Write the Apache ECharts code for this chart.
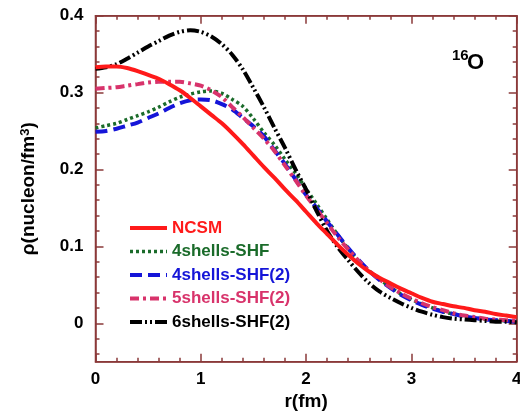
<!DOCTYPE html>
<html>
<head>
<meta charset="utf-8">
<script src="https://cdn.jsdelivr.net/npm/echarts@6/dist/echarts.min.js"></script>
<style>html,body{margin:0;padding:0;background:#fff}#chart{width:520px;height:412px}</style>
</head>
<body>
<div id="chart"></div>
<script>
// r (fm) sample points
const rValues = [0.0,0.1,0.2,0.3,0.4,0.5,0.6,0.7,0.8,0.9,1.0,1.1,1.2,1.3,1.4,1.5,1.6,1.7,1.8,1.9,2.0,2.1,2.2,2.3,2.4,2.5,2.6,2.7,2.8,2.9,3.0,3.1,3.2,3.3,3.4,3.5,3.6,3.7,3.8,3.9,4.0];
const seriesNames = ["NCSM","4shells-SHF","4shells-SHF(2)","5shells-SHF(2)","6shells-SHF(2)"];
const ncsm = [0.333,0.334,0.334,0.332,0.328,0.323,0.318,0.311,0.303,0.293,0.282,0.271,0.260,0.247,0.233,0.218,0.203,0.189,0.174,0.160,0.145,0.130,0.116,0.102,0.089,0.077,0.067,0.059,0.052,0.045,0.039,0.033,0.028,0.025,0.022,0.020,0.017,0.015,0.012,0.010,0.008];
const shf4 = [0.254,0.257,0.260,0.265,0.270,0.275,0.281,0.288,0.294,0.298,0.301,0.302,0.299,0.291,0.282,0.266,0.248,0.232,0.213,0.195,0.175,0.155,0.135,0.115,0.097,0.081,0.068,0.057,0.047,0.038,0.031,0.025,0.020,0.015,0.012,0.009,0.007,0.005,0.004,0.003,0.002];
const shf4b = [0.249,0.250,0.253,0.257,0.261,0.267,0.273,0.280,0.286,0.290,0.291,0.290,0.285,0.278,0.267,0.256,0.243,0.225,0.207,0.187,0.167,0.150,0.132,0.115,0.098,0.082,0.068,0.056,0.046,0.037,0.030,0.024,0.019,0.015,0.012,0.009,0.007,0.005,0.004,0.003,0.002];
const shf5b = [0.305,0.306,0.307,0.309,0.311,0.313,0.314,0.314,0.314,0.312,0.309,0.303,0.294,0.281,0.268,0.254,0.240,0.224,0.205,0.186,0.166,0.148,0.130,0.112,0.096,0.081,0.068,0.057,0.047,0.039,0.032,0.026,0.021,0.017,0.013,0.010,0.008,0.006,0.005,0.004,0.003];
const shf6b = [0.331,0.333,0.337,0.344,0.352,0.360,0.367,0.374,0.379,0.381,0.379,0.373,0.363,0.349,0.330,0.306,0.281,0.254,0.228,0.200,0.174,0.146,0.120,0.099,0.082,0.066,0.052,0.041,0.033,0.026,0.020,0.015,0.011,0.008,0.006,0.005,0.004,0.003,0.002,0.002,0.001];
const yMajor = [0,0.1,0.2,0.3,0.4];
const yMinor = [-0.04,-0.02,0.02,0.04,0.06,0.08,0.12,0.14,0.16,0.18,0.22,0.24,0.26,0.28,0.32,0.34,0.36,0.38];

const axisColor = '#8b3a3a';
const font = 'Liberation Sans, Arial, Helvetica, sans-serif';
const colors = ['#ff1a1a','#1a6b2a','#1515d8','#d8336b','#000000'];
const dashes = ['solid',[3,3],[12,6],[9,4,3,4],[12,3,2,3,2,3]];
const widths = [4,3.5,4,4,4];
const allData = [ncsm, shf4, shf4b, shf5b, shf6b];

function pairs(vals){ return rValues.map((r,i)=>[r, vals[i]]); }

const chart = echarts.init(document.getElementById('chart'), null, {renderer:'canvas'});

const lineOn = {show:true, onZero:false, lineStyle:{color:axisColor, width:1.5}};
const lineOff = {show:false, onZero:false};
const yBase = {type:'value', min:-0.05, max:0.4, splitLine:{show:false}};
const option = {
  animation:false,
  backgroundColor:'#fff',
  grid:{left:95.5, right:3.3, top:15.7, bottom:50.3, containLabel:false, outerBoundsMode:'none',
    show:true, borderColor:axisColor, borderWidth:1.5, backgroundColor:'transparent'},
  xAxis:[
    {type:'value', min:0, max:4, interval:1, position:'bottom',
      axisLine:lineOn,
      axisTick:{show:true, inside:true, length:8, lineStyle:{color:axisColor, width:1.5}},
      minorTick:{show:true, splitNumber:5, length:4, lineStyle:{color:axisColor, width:1.5}},
      axisLabel:{color:'#000', fontWeight:'bold', fontSize:17, fontFamily:font, margin:9},
      splitLine:{show:false},
      name:'r(fm)', nameLocation:'middle', nameGap:22,
      nameTextStyle:{color:'#000', fontWeight:'bold', fontSize:19, fontFamily:font}
    },
    {type:'value', min:0, max:4, interval:1, position:'top',
      axisLine:lineOn,
      axisTick:{show:true, inside:true, length:8, lineStyle:{color:axisColor, width:1.5}},
      minorTick:{show:true, splitNumber:5, length:4, lineStyle:{color:axisColor, width:1.5}},
      axisLabel:{show:false}, splitLine:{show:false}
    }
  ],
  yAxis:[
    Object.assign({}, yBase, {position:'left',
      axisLine:lineOn,
      axisTick:{show:true, inside:true, length:8, customValues:yMajor, lineStyle:{color:axisColor, width:1.5}},
      axisLabel:{show:true, customValues:yMajor, color:'#000', fontWeight:'bold', fontSize:17, fontFamily:font, margin:12,
        formatter:v=>String(Math.round(v*10)/10)},
      name:'{a|ρ(nucleon/fm}{s|3}{a|)}', nameLocation:'middle', nameGap:56, nameRotate:90,
      nameTextStyle:{color:'#000', fontWeight:'bold', fontSize:19, fontFamily:font,
        rich:{a:{fontSize:19, fontWeight:'bold', fontFamily:font, color:'#000'},
              s:{fontSize:13, fontWeight:'bold', fontFamily:font, color:'#000', verticalAlign:'top', padding:[0,0,8,0]}}}
    }),
    Object.assign({}, yBase, {position:'left',
      axisLine:lineOff,
      axisTick:{show:true, inside:true, length:4, customValues:yMinor, lineStyle:{color:axisColor, width:1.5}},
      axisLabel:{show:false}
    }),
    Object.assign({}, yBase, {position:'right',
      axisLine:lineOn,
      axisTick:{show:true, inside:true, length:8, customValues:yMajor, lineStyle:{color:axisColor, width:1.5}},
      axisLabel:{show:false}
    }),
    Object.assign({}, yBase, {position:'right',
      axisLine:lineOff,
      axisTick:{show:true, inside:true, length:4, customValues:yMinor, lineStyle:{color:axisColor, width:1.5}},
      axisLabel:{show:false}
    })
  ],
  legend:{
    orient:'vertical', left:123, top:214.5, itemWidth:37, itemHeight:14, itemGap:6.5,
    itemStyle:{opacity:0},
    lineStyle:{width:'inherit', type:'inherit'},
    data: seriesNames.map((n,i)=>({name:n, textStyle:{color:colors[i]}})),
    textStyle:{fontWeight:'bold', fontSize:17, fontFamily:font, lineHeight:17}
  },
  graphic:[
    {type:'text', left:452, top:48, style:{text:'16', fontSize:15, fontWeight:'bold', fontFamily:font, fill:'#000'}},
    {type:'text', left:467, top:52, style:{text:'O', fontSize:22, fontWeight:'bold', fontFamily:font, fill:'#000'}}
  ],
  series: seriesNames.map((n,i)=>({
    name:n, type:'line', xAxisIndex:0, yAxisIndex:0, data:pairs(allData[i]),
    symbol:'none', smooth:0.3, z: i===0 ? 5 : 2+i*0.1,
    lineStyle:{color:colors[i], width:widths[i], type:dashes[i]},
    itemStyle:{color:colors[i]}
  }))
};
chart.setOption(option);
</script>
</body>
</html>
